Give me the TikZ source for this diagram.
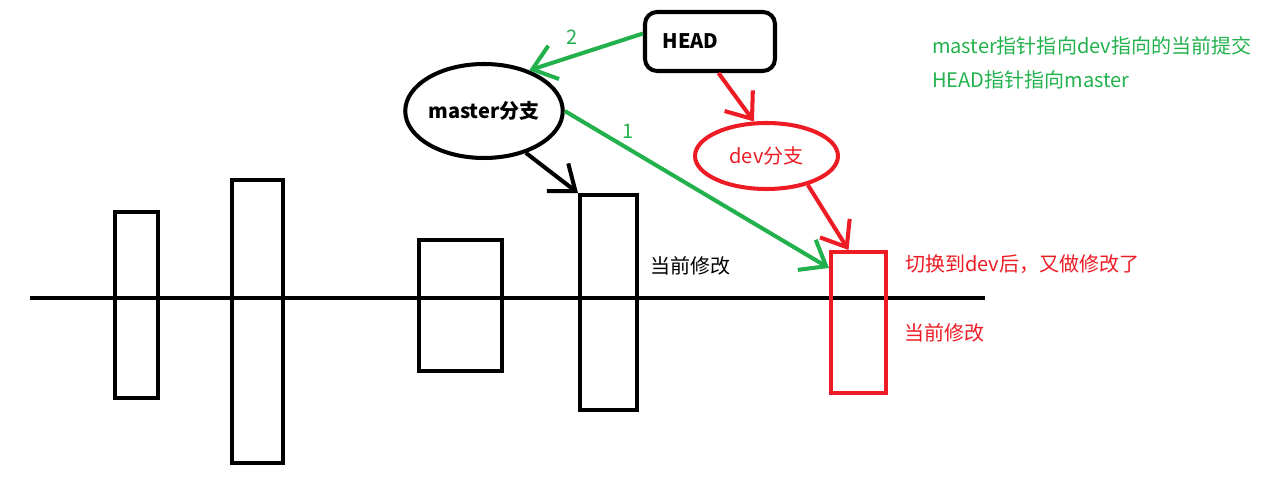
\documentclass[tikz,border=0pt]{standalone}
\usepackage{fontspec}
\setmainfont{Noto Sans CJK SC}
\usetikzlibrary{shapes.geometric,arrows.meta}
\definecolor{pgreen}{RGB}{34,177,76}
\definecolor{pred}{RGB}{237,28,36}
\begin{document}
\begin{tikzpicture}[x=0.02cm,y=-0.02cm,line width=2.3pt,
    >={Straight Barb[length=4.5mm,width=7mm]},
    font=\fontsize{11.4}{14}\selectfont,
    commit/.style={draw,rectangle,inner sep=0pt},
    branch/.style={draw,ellipse,inner sep=0pt},
    note/.style={anchor=west,inner sep=0pt}]
    \useasboundingbox (0,0) rectangle (1276,479);
    % commit line
    \draw (30,298) -- (985,298);
    \node[commit,minimum width=0.86cm,minimum height=3.72cm] (c1) at (136.5,305) {};
    \node[commit,minimum width=1.02cm,minimum height=5.66cm] (c2) at (257.5,321.5) {};
    \node[commit,minimum width=1.66cm,minimum height=2.62cm] (c3) at (460.5,305.5) {};
    \node[commit,minimum width=1.14cm,minimum height=4.3cm] (c4) at (608.5,302.5) {};
    \node[commit,pred,minimum width=1.1cm,minimum height=2.82cm] (cdev) at (858.5,322.5) {};
    % pointers
    \node[branch,minimum width=3.12cm,minimum height=1.88cm] (master) at (484,111) {\bfseries master分支};
    \node[draw,rounded corners=0.24cm,text width=1.9cm,align=left,inner xsep=0.35cm,
          minimum height=1.18cm] (head) at (710,41.5) {\bfseries HEAD};
    \node[branch,pred,minimum width=2.86cm,minimum height=1.32cm] (dev) at (766.5,156) {dev分支};
    \draw[->,pgreen] ([yshift=0.16cm]head.west) -- (master.42);
    \draw[->,pgreen] (master.east) -- ([yshift=-0.36cm]cdev.north west);
    \draw[->] (master.-45) -- (c4.north west);
    \draw[->,pred] (head.-75) -- (dev.110);
    \draw[->,pred] (dev.-35) -- ([xshift=-0.2cm]cdev.north);
    \node[pgreen] (lbl2) at (572,37) {2};
    \node[pgreen] (lbl1) at (628,131) {1};
    % notes
    \node[note] (cur) at (648,266) {当前修改};
    \node[note,pred] (switch) at (903,264) {切换到dev后，又做修改了};
    \node[note,pred] (curdev) at (902,333) {当前修改};
    \node[note,pgreen] (txt1) at (930,46) {master指针指向dev指向的当前提交};
    \node[note,pgreen] (txt2) at (930,80) {HEAD指针指向master};
\end{tikzpicture}
\end{document}
